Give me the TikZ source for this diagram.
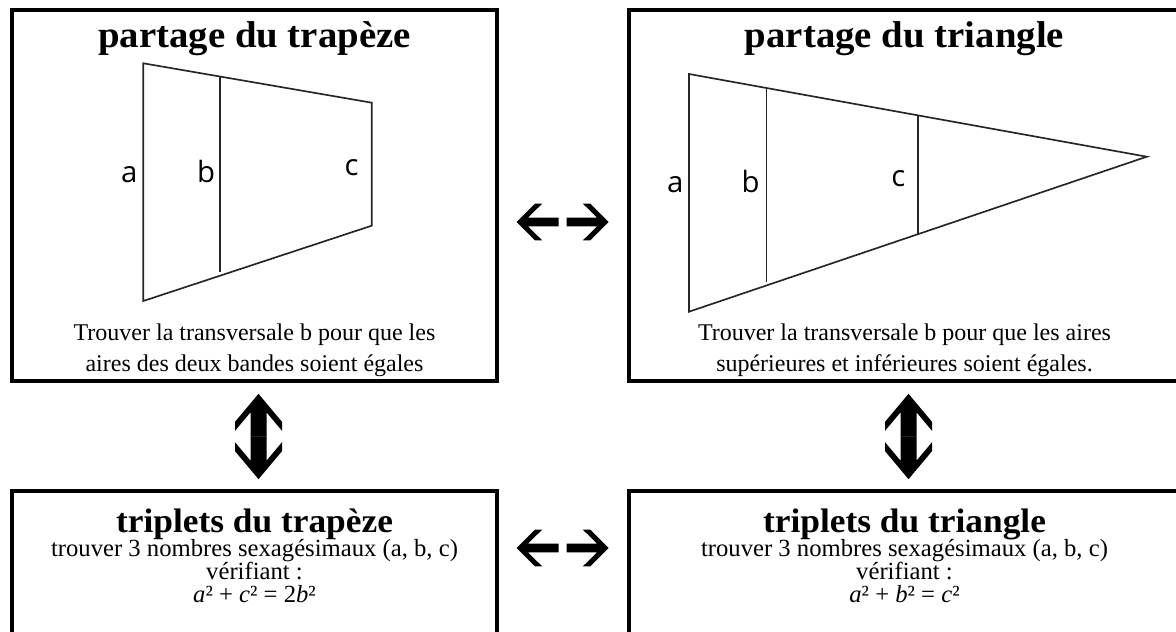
\documentclass[tikz,border=0pt]{standalone}
\usepackage{fontspec}
\setmainfont{Liberation Serif}
\newfontfamily\titlefont[FakeStretch=1.04]{Liberation Serif}
\newfontfamily\labfont{Open Sans}
\begin{document}
\begin{tikzpicture}[x=0.75pt,y=-0.75pt,
  box/.style={draw, line width=3pt, inner sep=0pt, rectangle},
  fig/.style={line width=1.25pt, black!85, line join=miter},
  ttl/.style={anchor=base, inner sep=0pt, font=\titlefont\bfseries\fontsize{28}{32}\selectfont},
  ttlb/.style={anchor=base, inner sep=0pt, font=\titlefont\bfseries\fontsize{25.5}{30}\selectfont},
  body/.style={anchor=base, inner sep=0pt, align=center, font=\fontsize{18}{23.25}\selectfont},
  bodyb/.style={anchor=base, inner sep=0pt, align=center, font=\fontsize{18.5}{17.25}\selectfont},
  lab/.style={anchor=base, inner sep=0pt, font=\labfont\fontsize{22}{26}\selectfont},
  harrow/.pic={\fill (0,0) -- (-18.3,18.3) -- (-25.6,18.3) -- (-11.5,4.4) -- (-42,4.4) -- (-42,-4.4) -- (-11.5,-4.4) -- (-25.6,-18.3) -- (-18.3,-18.3) -- cycle;},
  varrow/.pic={\fill (0,0) -- (-28,23.5) -- (-37,23.5) -- (-18.5,8) -- (-42.8,8) -- (-42.8,-8) -- (-18.5,-8) -- (-37,-23.5) -- (-28,-23.5) -- cycle;}
]
\useasboundingbox (0,0) rectangle (1176,631);
\clip (0,0) rectangle (1176,631);
\fill[white] (0,0) rectangle (1176,631);

% boxes
\node[box, minimum width=363.75pt, minimum height=278.25pt] (TL) at (254.5,195.5) {};
\node[box, minimum width=413.25pt, minimum height=278.25pt] (TR) at (904.5,195.5) {};
\node[box, minimum width=363.75pt, minimum height=195pt] (BL) at (254.5,621) {};
\node[box, minimum width=413.25pt, minimum height=195pt] (BR) at (904.5,621) {};

% titles
\node[ttl] (tTL) at (254.5,48) {partage du trapèze};
\node[ttl] (tTR) at (904.5,48) {partage du triangle};
\node[ttlb] (tBL) at (254.5,532) {triplets du trapèze};
\node[ttlb] (tBR) at (904.5,532) {triplets du triangle};

% body texts
\node[body] (dTL) at (254.5,340) {Trouver la transversale b pour que les};
\node[body] (dTL2) at (254.5,371) {aires des deux bandes soient égales};
\node[body] (dTR) at (904.5,340) {Trouver la transversale b pour que les aires};
\node[body] (dTR2) at (904.5,371) {supérieures et inférieures soient égales.};

\node[bodyb] (dBL) at (254.5,556) {trouver 3 nombres sexagésimaux (a, b, c)};
\node[bodyb] (dBL2) at (254.5,579) {vérifiant :};
\node[bodyb] (dBL3) at (254.5,602) {\textit{a}² + \textit{c}² = 2\textit{b}²};
\node[bodyb] (dBR) at (904.5,556) {trouver 3 nombres sexagésimaux (a, b, c)};
\node[bodyb] (dBR2) at (904.5,579) {vérifiant :};
\node[bodyb] (dBR3) at (904.5,602) {\textit{a}² + \textit{b}² = \textit{c}²};

% trapezoid figure
\draw[fig] (143.3,63.3) -- (371.7,102.7) -- (371.7,225.7) -- (143.3,301) -- cycle;
\draw[fig] (220,76.5) -- (220,272);
\node[lab] (la1) at (129.3,182.7) {a};
\node[lab] (lb1) at (206,182.7) {b};
\node[lab] (lc1) at (351.7,175) {c};

% triangle figure
\draw[fig] (689,74) -- (1146.8,156.7) -- (689,311.7) -- cycle;
\draw[fig] (766.4,88) -- (766.4,282);
\draw[fig] (917.7,115.3) -- (917.7,234.3);
\node[lab] (la2) at (675.2,192) {a};
\node[lab] (lb2) at (750.7,192) {b};
\node[lab] (lc2) at (898.3,186) {c};

% block arrows
\coordinate (hTop) at (562.5,222);
\coordinate (hBot) at (562.5,548);
\pic at ([xshift=34.5pt]hTop) {harrow};
\pic[rotate=180] at ([xshift=-34.5pt]hTop) {harrow};
\pic at ([xshift=34.5pt]hBot) {harrow};
\pic[rotate=180] at ([xshift=-34.5pt]hBot) {harrow};

\coordinate (vL) at (258.5,436.5);
\coordinate (vR) at (908.5,436.5);
\pic[rotate=-90] at ([yshift=-32pt]vL) {varrow};
\pic[rotate=90] at ([yshift=32pt]vL) {varrow};
\pic[rotate=-90] at ([yshift=-32pt]vR) {varrow};
\pic[rotate=90] at ([yshift=32pt]vR) {varrow};
\end{tikzpicture}
\end{document}
